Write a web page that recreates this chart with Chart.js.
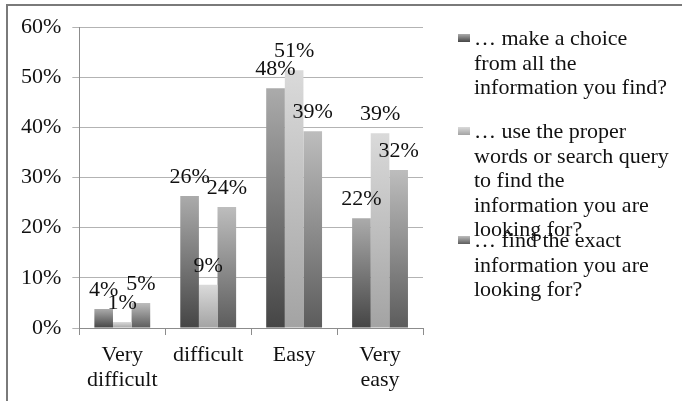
<!DOCTYPE html>
<html>
<head>
<meta charset="utf-8">
<script src="https://cdn.jsdelivr.net/npm/chart.js@4/dist/chart.umd.min.js"></script>
<style>
    html, body { margin: 0; padding: 0; background: #fff; }
    #wrap { position: relative; width: 682px; height: 401px; overflow: hidden; }
    #frame {
        position: absolute; left: 6px; top: 4px; width: 700px; height: 420px;
        border-left: 2px solid #7a7a7a; border-top: 2px solid #7a7a7a;
    }
    #chart { position: absolute; left: 0; top: 0; }
    .legend-item {
        position: absolute; left: 474px;
        font: 22px "Liberation Serif", "Times New Roman", serif;
        line-height: 24.5px; color: #111; white-space: nowrap;
    }
    .legend-item .mark {
        position: absolute; left: -16px; top: 8px; width: 12px; height: 8px;
    }
</style>
</head>
<body>
<div id="wrap">
    <div id="frame"></div>
    <canvas id="chart" width="682" height="401"></canvas>
    <div id="legend"></div>
</div>
<script>
// answers per difficulty level (share of respondents, %)
const categories = [['Very', 'difficult'], 'difficult', 'Easy', ['Very', 'easy']];
const makeChoice = [3.8, 26.3, 47.8, 21.9];
const properWords = [1.2, 8.6, 51.4, 38.8];
const exactInfo = [5.0, 24.1, 39.2, 31.5];
const yTicks = [0, 10, 20, 30, 40, 50, 60];

const seriesNames = [
    '… make a choice from all the information you find?',
    '… use the proper words or search query to find the information you are looking for?',
    '… find the exact information you are looking for?'
];
// how the legend text wraps in the original
const legendLines = [
    ['… make a choice', 'from all the', 'information you find?'],
    ['… use the proper', 'words or search query', 'to find the', 'information you are', 'looking for?'],
    ['… find the exact', 'information you are', 'looking for?']
];

const FONT = '"Liberation Serif", "Times New Roman", serif';
const shades = [
    ['#454545', '#ababab'],
    ['#a3a3a3', '#dadada'],
    ['#5c5c5c', '#bdbdbd']
];
const legendTops = [26, 119, 228];

function barGradient(ctx, shade) {
    const chart = ctx.chart;
    if (!chart.chartArea || ctx.type !== 'data') {
        return shade[0];
    }
    const y = chart.scales.y;
    const bottom = y.getPixelForValue(0);
    const top = y.getPixelForValue(ctx.raw);
    if (!isFinite(top) || bottom - top < 1) {
        return shade[1];
    }
    const g = chart.ctx.createLinearGradient(0, bottom, 0, top);
    g.addColorStop(0, shade[0]);
    g.addColorStop(1, shade[1]);
    return g;
}

const valueLabels = {
    id: 'valueLabels',
    afterDatasetsDraw: chart => {
        const c = chart.ctx;
        c.save();
        c.font = '22px ' + FONT;
        c.fillStyle = '#111';
        c.textAlign = 'center';
        c.textBaseline = 'middle';
        chart.data.datasets.forEach((ds, i) => {
            chart.getDatasetMeta(i).data.forEach((bar, j) => {
                c.fillText(Math.round(ds.data[j]) + '%', bar.x, bar.y - 19);
            });
        });
        c.restore();
    }
};

const series = [makeChoice, properWords, exactInfo];

new Chart(document.getElementById('chart'), {
    type: 'bar',
    data: {
        labels: categories,
        datasets: series.map((values, i) => ({
            label: seriesNames[i],
            data: values,
            backgroundColor: ctx => barGradient(ctx, shades[i]),
            borderWidth: 0,
            categoryPercentage: 0.65,
            barPercentage: 1.0
        }))
    },
    options: {
        responsive: false,
        animation: false,
        devicePixelRatio: 1,
        layout: {
            padding: { left: 10, right: 259, top: 27, bottom: 0 }
        },
        plugins: {
            legend: { display: false },
            tooltip: { enabled: false }
        },
        scales: {
            x: {
                grid: { drawOnChartArea: false, tickLength: 7, color: '#8c8c8c' },
                border: { color: '#8c8c8c' },
                ticks: {
                    color: '#111',
                    padding: 8,
                    font: { family: FONT, size: 22, lineHeight: 1.136 }
                }
            },
            y: {
                min: yTicks[0],
                max: yTicks[yTicks.length - 1],
                afterBuildTicks: axis => {
                    axis.ticks = yTicks.map(v => ({ value: v }));
                },
                grid: { color: '#b3b3b3', tickLength: 7 },
                border: { color: '#8c8c8c' },
                ticks: {
                    color: '#111',
                    padding: 11,
                    font: { family: FONT, size: 22 },
                    callback: value => value + '%'
                }
            }
        }
    },
    plugins: [valueLabels]
});

// legend: wrapped text with small gradient markers
const legend = document.getElementById('legend');
legendLines.forEach((lines, i) => {
    const item = document.createElement('div');
    item.className = 'legend-item';
    item.style.top = legendTops[i] + 'px';
    const mark = document.createElement('span');
    mark.className = 'mark';
    mark.style.background = 'linear-gradient(to top, ' + shades[i][0] + ', ' + shades[i][1] + ')';
    item.appendChild(mark);
    lines.forEach((line, k) => {
        if (k > 0) item.appendChild(document.createElement('br'));
        item.appendChild(document.createTextNode(line));
    });
    legend.appendChild(item);
});
</script>
</body>
</html>
